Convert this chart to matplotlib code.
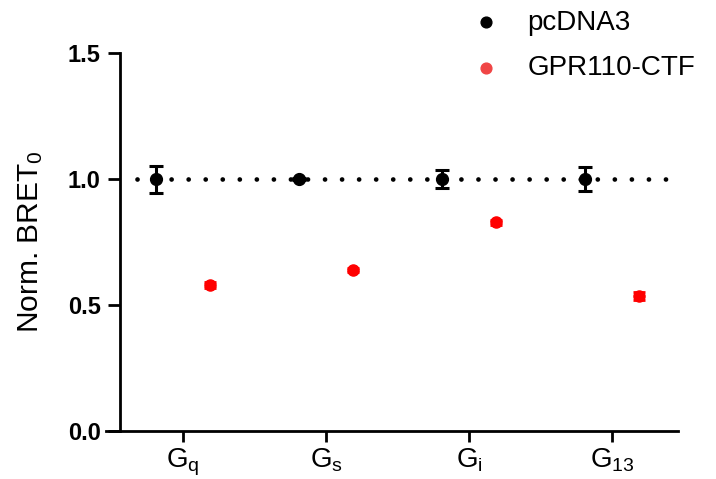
import numpy as np
import matplotlib
matplotlib.use("Agg")
import matplotlib.pyplot as plt

plt.rcParams['font.family'] = ['Liberation Sans', 'DejaVu Sans']
plt.rcParams['mathtext.fontset'] = 'custom'
plt.rcParams['mathtext.rm'] = 'Liberation Sans'
plt.rcParams['mathtext.it'] = 'Liberation Sans'

groups = [r'$\mathrm{G_q}$', r'$\mathrm{G_s}$', r'$\mathrm{G_i}$', r'$\mathrm{G_{13}}$']
pcdna3 = [1.0, 1.0, 1.0, 1.0]
pcdna3_err = [0.054, 0.004, 0.036, 0.048]
gpr110 = [0.579, 0.639, 0.829, 0.536]
gpr110_err = [0.012, 0.008, 0.010, 0.016]
yticks = [0.0, 0.5, 1.0, 1.5]

x = np.arange(len(groups))
shift = 0.19

fig = plt.figure(figsize=(7.16, 4.79), dpi=100)
# axes spans from the left end of the bottom spine to its right end
ax = fig.add_axes([0.1476, 0.1002, 0.7993, 0.7888])

# dotted reference line at 1.0
ax.hlines(1.0, -0.32, 3.43, colors='black', linewidth=3.4,
          linestyles=(0, (0.01, 3.6)), capstyle='round', zorder=1)

ax.errorbar(x - shift, pcdna3, yerr=pcdna3_err, fmt='o', color='black',
            markersize=8.5, elinewidth=2.2, capsize=5, capthick=2.2, zorder=3)
ax.errorbar(x + shift, gpr110, yerr=gpr110_err, fmt='o', color='#ff0000',
            markersize=8, elinewidth=2, capsize=4, capthick=2, zorder=3)

ax.set_xlim(-0.54, 3.46)
ax.set_ylim(0, 1.5)
ax.set_yticks(yticks)
ax.set_yticklabels([f'{t:.1f}' for t in yticks])
ax.set_xticks(x)
ax.set_xticklabels(groups)

ax.spines['top'].set_visible(False)
ax.spines['right'].set_visible(False)
ax.spines['left'].set_linewidth(2)
ax.spines['bottom'].set_linewidth(2)
ax.spines['left'].set_position(('data', -0.44))
ax.tick_params(axis='y', labelsize=17, width=2, length=9, pad=5)
ax.tick_params(axis='x', labelsize=20, width=2, length=8, pad=3)
for lbl in ax.get_yticklabels():
    lbl.set_fontweight('bold')
ax.set_ylabel(r'Norm. BRET$_\mathrm{0}$', fontsize=21.5, labelpad=16)

# legend drawn outside the axes at upper right
h1 = ax.scatter([], [], s=60, color='black')
h2 = ax.scatter([], [], s=60, color='#f04545')
fig.legend([h1, h2], ['pcDNA3', 'GPR110-CTF'], loc='upper left',
           bbox_to_anchor=(0.616, 1.032), frameon=False, fontsize=20,
           handletextpad=0.8, labelspacing=0.7, handlelength=1.4)

fig.savefig('out.png', dpi=100)
